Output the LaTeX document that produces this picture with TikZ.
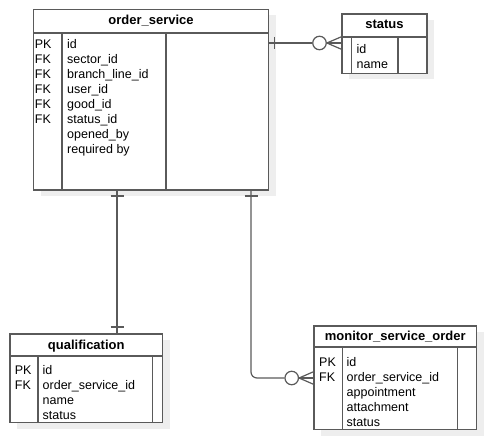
\documentclass[tikz,border=0pt]{standalone}
\usepackage{fontspec}
\setmainfont{Liberation Sans}
\usetikzlibrary{calc, shadows}
\definecolor{edgegray}{HTML}{5A5A5A}
\definecolor{shadegray}{HTML}{EEEEEE}
\tikzstyle{link} = [draw=edgegray, line width=1.2pt]

\begin{document}
\begin{tikzpicture}[x=1pt, y=-1pt,
    tbl/.style={draw=edgegray, line width=1.2pt, fill=white, outer sep=0pt, inner sep=0pt, anchor=north west,
      general shadow={fill=shadegray, shadow xshift=7pt, shadow yshift=-6pt}},
    grid/.style={draw=edgegray, line width=1.2pt},
    hdr/.style={anchor=base, inner sep=0pt, font=\fontsize{13}{15}\selectfont\bfseries},
    rows/.style={anchor=base west, inner sep=0pt, align=left, font=\fontsize{12.5}{15}\selectfont},
    ring/.style={circle, draw=edgegray, line width=1.2pt, fill=white, minimum size=13.5pt, inner sep=0pt}
  ]
  \useasboundingbox (0,0) rectangle (486,441);

  % order_service (rows sit on the baseline of their last line)
  \node[tbl, minimum width=235pt, minimum height=180.5pt] (os) at (33.5,9.5) {};
  \draw[grid] (33.5,33) -- (268.5,33) (62,33) -- (62,190) (166,33) -- (166,190);
  \node[hdr] (os-t) at (151,25) {order\_service};
  \node[rows] (os-k) at (34.7,123.5) {PK\\FK\\FK\\FK\\FK\\FK};
  \node[rows] (os-f) at (67,153.5) {id\\sector\_id\\branch\_line\_id\\user\_id\\good\_id\\status\_id\\opened\_by\\required by};

  % status
  \node[tbl, minimum width=85pt, minimum height=59.5pt] (st) at (342,14) {};
  \draw[grid] (342,37) -- (427,37) (351.5,37) -- (351.5,73.5) (398,37) -- (398,73.5);
  \node[hdr] (st-t) at (384.5,29) {status};
  \node[rows] (st-f) at (356.5,69) {id\\name};

  % qualification
  \node[tbl, minimum width=152.5pt, minimum height=88.5pt] (ql) at (10,334) {};
  \draw[grid] (10,356) -- (162.5,356) (38,356) -- (38,422.5) (152.5,356) -- (152.5,422.5);
  \node[hdr] (ql-t) at (86.25,349) {qualification};
  \node[rows] (ql-k) at (14.7,389.5) {PK\\FK};
  \node[rows] (ql-f) at (42.5,419.5) {id\\order\_service\_id\\name\\status};

  % monitor_service_order
  \node[tbl, minimum width=162.5pt, minimum height=103.5pt] (mso) at (314,326) {};
  \draw[grid] (314,347) -- (476.5,347) (342.5,347) -- (342.5,429.5) (457.5,347) -- (457.5,429.5);
  \node[hdr] (mso-t) at (395.25,340) {monitor\_service\_order};
  \node[rows] (mso-k) at (319,381) {PK\\FK};
  \node[rows] (mso-f) at (346.5,426) {id\\order\_service\_id\\appointment\\attachment\\status};

  % links
  \node[ring] (st-o) at (319.5,43) {};
  \draw[link] (os.east |- st-o) -- (st-o.west);
  \draw[link] ($(os.east |- st-o)+(6,-6)$) -- ++(0,12);
  \foreach \dy in {-6.5,0,6.5}
    \draw[link] (st-o.east) -- ($(st.west |- st-o)+(0,\dy)$);

  \coordinate (os-q) at (117,190);
  \draw[link] (os-q) -- (ql.north -| os-q);
  \draw[link] ($(os-q)+(-6.5,6)$) -- ++(13,0);
  \draw[link] ($(ql.north -| os-q)+(-6.5,-7)$) -- ++(13,0);

  \coordinate (os-m) at (251,190);
  \node[ring] (mso-o) at (291.7,378) {};
  \draw[link, rounded corners=6pt] (os-m) |- (mso-o.west);
  \draw[link] ($(os-m)+(-6.5,6)$) -- ++(13,0);
  \foreach \dy in {-6.5,0,6.5}
    \draw[link] (mso-o.east) -- ($(mso.west |- mso-o)+(0,\dy)$);

\end{tikzpicture}
\end{document}
